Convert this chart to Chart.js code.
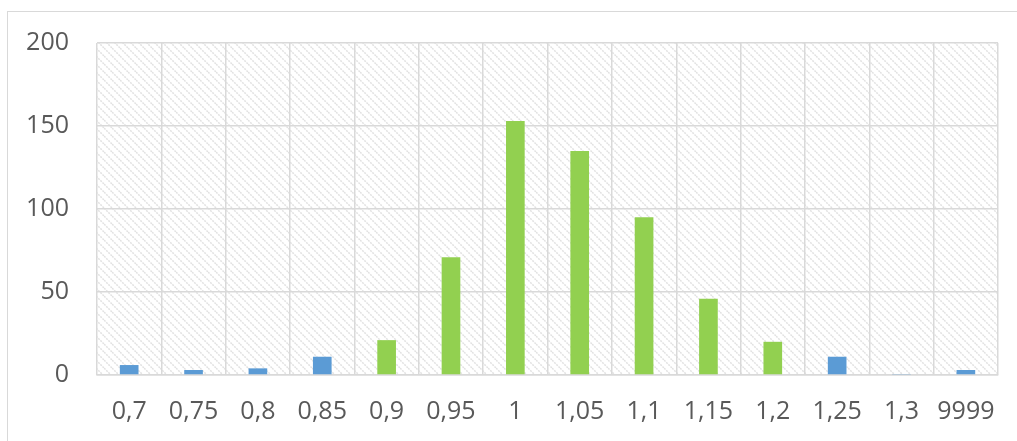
<!DOCTYPE html>
<html>
<head>
<meta charset="utf-8">
<script src="https://cdn.jsdelivr.net/npm/chart.js@4.4.0/dist/chart.umd.min.js"></script>
<style>
  html, body { margin: 0; padding: 0; background: #fff; overflow: hidden; }
  #wrap { position: relative; width: 1017px; height: 441px; }
  #frame { position: absolute; left: 7px; top: 11px; width: 1030px; height: 450px; border: 1px solid #d9d9d9; }
  canvas { position: absolute; left: 0; top: 0; }
</style>
</head>
<body>
<div id="wrap">
  <div id="frame"></div>
  <canvas id="chart" width="1017" height="441"></canvas>
</div>
<script>
const categories = ['0,7', '0,75', '0,8', '0,85', '0,9', '0,95', '1', '1,05', '1,1', '1,15', '1,2', '1,25', '1,3', '9999'];
const outsideValues = [6, 3, 4, 11, null, null, null, null, null, null, null, 11, 0.6, 3];
const insideValues = [null, null, null, null, 21, 71, 153, 135, 95, 46, 20, null, null, null];
const yTicks = [0, 50, 100, 150, 200];

function makeHatch() {
  const c = document.createElement('canvas');
  c.width = 8; c.height = 8;
  const g = c.getContext('2d');
  g.strokeStyle = '#e2e2e2';
  g.lineWidth = 1.5;
  g.setLineDash([2, 1]);
  g.beginPath();
  g.moveTo(-2, -2); g.lineTo(10, 10);
  g.moveTo(-2, 6); g.lineTo(2, 10);
  g.moveTo(6, -2); g.lineTo(10, 2);
  g.stroke();
  return g.createPattern(c, 'repeat');
}

const hatchBackground = {
  id: 'hatchBackground',
  beforeDraw(chart) {
    const a = chart.chartArea;
    const ctx = chart.ctx;
    ctx.save();
    ctx.fillStyle = makeHatch();
    ctx.fillRect(a.left, a.top, a.right - a.left, a.bottom - a.top);
    ctx.restore();
  }
};

const tickFont = { family: '"Open Sans", sans-serif', size: 25 };

new Chart(document.getElementById('chart'), {
  type: 'bar',
  data: {
    labels: categories,
    datasets: [
      { label: 'outside', data: outsideValues, backgroundColor: '#5b9bd5', categoryPercentage: 1, barPercentage: 0.29 },
      { label: 'inside', data: insideValues, backgroundColor: '#92d050', categoryPercentage: 1, barPercentage: 0.29 }
    ]
  },
  options: {
    responsive: false,
    animation: false,
    layout: { padding: { left: 0, top: 43, right: 15, bottom: 0 } },
    plugins: { legend: { display: false }, tooltip: { enabled: false } },
    scales: {
      x: {
        stacked: true,
        grid: { color: '#d9d9d9', lineWidth: 1.5, drawTicks: false, offset: true },
        border: { color: '#d9d9d9', width: 1.5 },
        ticks: { font: tickFont, color: '#595959', padding: 22, maxRotation: 0, autoSkip: false },
        afterFit(s) { s.height = 66; }
      },
      y: {
        stacked: true,
        min: 0,
        max: 200,
        grid: { color: '#d9d9d9', lineWidth: 1.5, drawTicks: false },
        border: { display: false },
        afterBuildTicks(s) { s.ticks = yTicks.map(v => ({ value: v })); },
        ticks: { font: tickFont, color: '#595959', padding: 28 },
        afterFit(s) { s.width = 97; }
      }
    }
  },
  plugins: [hatchBackground]
});
</script>
</body>
</html>
